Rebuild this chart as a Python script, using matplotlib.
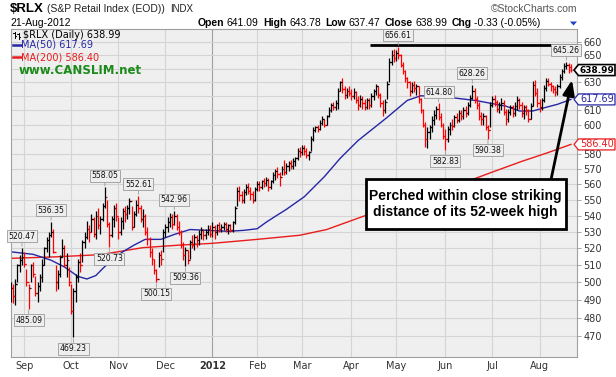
import matplotlib
matplotlib.use('Agg')
import matplotlib.pyplot as plt
from matplotlib.patches import Polygon, Rectangle
from matplotlib.lines import Line2D
from matplotlib.ticker import NullLocator
import numpy as np

# ---------------- data ----------------
closes = [497, 492, 499, 510, 513, 515, 511, 500, 497, 510, 505, 494, 498, 503, 510, 520, 525, 528, 530, 518,
          500, 505, 515, 520, 510, 513, 500, 484, 495, 503, 512, 510, 524, 527, 532, 530, 538, 529, 540, 534,
          538, 546, 552, 535, 528, 538, 545, 540, 530, 537, 543, 541, 545, 549, 533, 541, 547, 545, 538, 540,
          530, 526, 518, 514, 507, 502, 516, 514, 530, 533, 536, 539, 535, 540, 533, 530, 522, 516, 519, 513,
          524, 522, 527, 525, 529, 531, 528, 530, 532, 529, 533, 530, 534, 532, 533, 535, 532, 534, 531, 536,
          545, 556, 553, 550, 555, 558, 556, 554, 550, 557, 560, 558, 562, 561, 563, 558, 562, 566, 569, 567,
          565, 570, 568, 572, 574, 572, 575, 577, 582, 581, 584, 582, 579, 581, 590, 596, 598, 597, 601, 604,
          600, 606, 610, 614, 612, 615, 624, 630, 625, 621, 624, 622, 620, 623, 617, 614, 618, 615, 612, 617,
          614, 620, 624, 627, 621, 615, 610, 616, 629, 645, 650, 648, 652, 650, 643, 638, 633, 630, 624, 628,
          626, 627, 618, 610, 600, 590, 595, 598, 603, 607, 611, 605, 600, 592, 590, 597, 600, 599, 605, 603,
          608, 606, 610, 608, 614, 619, 624, 618, 614, 606, 604, 606, 598, 596, 614, 618, 616, 611, 614, 615,
          609, 604, 609, 612, 608, 613, 617, 614, 608, 612, 610, 604, 613, 628, 622, 615, 612, 617, 626, 631,
          629, 627, 625, 623, 627, 634, 638, 642, 643, 639.32, 638.99]
highs = [500, 499, 502, 511, 516, 520.47, 518, 508, 499, 511, 512, 504, 500, 505, 514, 521, 527, 530, 536.35, 532,
         510, 507, 516, 526, 522, 517, 509, 499, 497, 505, 514, 517, 525, 530, 537, 534, 541, 539, 543, 545,
         540, 548, 558.05, 550, 536, 540, 547, 548, 539, 539, 545, 546, 547, 551, 546, 543, 550, 552.61, 547, 544,
         541, 533, 527, 520, 514, 508, 518, 519, 532, 535, 539, 542, 541, 542.96, 541, 537, 531, 524, 521, 519,
         525, 528, 529, 528, 531, 533, 532, 532, 534, 534, 536, 534, 535, 536, 535, 536, 536, 535, 535, 537,
         546, 558, 559, 556, 557, 560, 561, 558, 556, 558, 562, 562, 563, 564, 565, 564, 563, 568, 570, 571,
         568, 572, 576, 574, 575, 576, 577, 578, 584, 585, 586, 586, 584, 582, 592, 598, 599, 600, 603, 606,
         604, 607, 612, 615, 616, 617, 626, 631, 633, 627, 626, 627, 625, 626, 624, 620, 621, 620, 618, 619,
         619, 622, 625, 629, 627, 622, 617, 618, 631, 648, 654, 655, 654, 656.61, 651, 645, 639, 634, 631, 630,
         631, 629, 627, 619, 611, 602, 598, 600, 606, 610, 613, 614.80, 608, 601, 597, 599, 602, 604, 607, 608,
         610, 610, 612, 613, 616, 621, 628.26, 626, 620, 616, 609, 608, 607, 600, 616, 620, 621, 617, 616, 619,
         617, 611, 611, 614, 614, 616, 620, 619, 616, 614, 614, 611, 615, 631, 632, 626, 618, 619, 628, 633,
         633, 630, 628, 627, 629, 636, 640, 644, 645.26, 644, 643.78]
lows = [489, 488, 487, 500, 506, 510, 509, 498, 485.09, 500, 503, 492, 489, 495, 500, 510, 518, 515, 527, 517,
        495, 496, 503, 515, 509, 503, 498, 482, 469.23, 489, 500, 506, 512, 520, 526, 524, 530, 527, 526, 532,
        529, 537, 545, 533, 520.73, 527, 533, 537, 526, 528, 532, 536, 538, 541, 531, 533, 540, 542, 536, 533,
        528, 522, 515, 510, 505, 500.15, 509, 510, 518, 527, 530, 533, 532, 534, 531, 528, 520, 513, 509.36, 511,
        514, 520, 519, 521, 522, 526, 525, 526, 528, 527, 527, 526, 528, 530, 530, 531, 530, 529, 530, 530,
        535, 546, 549, 548, 548, 553, 554, 550, 548, 549, 556, 556, 557, 558, 559, 556, 557, 561, 563, 564,
        559, 566, 566, 567, 569, 570, 570, 572, 576, 578, 579, 579, 577, 576, 582, 589, 595, 595, 596, 600,
        598, 600, 605, 609, 610, 610, 611, 624, 622, 618, 619, 620, 617, 618, 615, 610, 612, 611, 610, 611,
        611, 612, 617, 621, 619, 612, 606, 608, 618, 630, 643, 645, 646, 647, 641, 636, 630, 626, 620, 622,
        623, 621, 615, 608, 598, 585, 584, 590, 595, 600, 604, 603, 598, 590, 582.83, 588, 593, 596, 598, 601,
        602, 603, 604, 605, 607, 612, 618, 615, 611, 603, 600, 600, 596, 590.38, 598, 612, 613, 609, 608, 610,
        607, 600, 602, 607, 605, 606, 610, 611, 605, 604, 607, 602, 604, 613, 620, 612, 609, 610, 616, 624,
        627, 624, 622, 620, 621, 626, 632, 637, 640, 637, 637.47]
last_open = 641.09

ma50_idx = [0, 10, 18, 24, 30, 34, 38, 41, 45, 50, 55, 60, 67, 73, 80, 88, 97, 104, 110, 114, 118, 123, 131,
            140, 147, 155, 168, 177, 183, 194, 208, 221, 227, 233, 238, 244, 250]
ma50_val = [518, 516.5, 513, 509, 503.5, 502, 504, 508, 513, 518, 522, 525.5, 525.5, 528.5, 531.5, 531, 530.4,
            531, 532, 536, 539.6, 544, 552, 565, 577, 589, 605, 617, 620.3, 619.5, 616.8, 612.9, 609.5, 609.5,
            611.7, 614.2, 617.69]
ma200_idx = [0, 20, 40, 59, 75, 90, 110, 129, 141, 151, 161, 175, 189, 204, 215, 228, 240, 250]
ma200_val = [514.1, 515, 516.3, 520.5, 522, 523.1, 525.5, 528, 531.5, 536.5, 541.5, 547.5, 554, 562, 568,
             575, 581, 586.4]

month_idx = [6, 27, 48, 69, 90, 110, 130, 152, 172, 194, 215, 236]
month_lbl = ['Sep', 'Oct', 'Nov', 'Dec', '2012', 'Feb', 'Mar', 'Apr', 'May', 'Jun', 'Jul', 'Aug']
ytick_vals = list(range(470, 661, 10))

hi_label_idx = [5, 18, 42, 57, 73, 173, 191, 206, 248]
lo_label_idx = [8, 28, 44, 65, 78, 194, 213]

resistance_level = 657.9
resistance_start = 160.3
last_close, ma50_last, ma200_last = 638.99, 617.69, 586.40

# ---------------- figure ----------------
W, H = 616, 377
fig = plt.figure(figsize=(W / 100, H / 100), dpi=100)
fig.patch.set_facecolor('white')
L, R, T, B = 10.5, 576.7, 29.3, 356.7
ax = fig.add_axes([L / W, 1 - B / H, (R - L) / W, (B - T) / H])
ax.set_facecolor('#efefef')
ax.set_yscale('log')
ax.set_ylim(458.9, 669.8)
ax.set_xlim(-0.1, 252.6)


def fp(x, y):
    return (x / W, 1 - y / H)


tag_vals = [last_close, ma50_last, ma200_last]

# grid
ax.set_yticks(ytick_vals)
# tick labels that sit behind the value tags are hidden, as in the reference
ax.set_yticklabels(['' if any(abs(v - t) < 4.5 for t in tag_vals) else str(v) for v in ytick_vals])
ax.yaxis.set_minor_locator(NullLocator())
ax.yaxis.tick_right()
ax.tick_params(axis='y', which='major', direction='out', length=3, width=0.6, pad=2,
               colors='#999999', labelcolor='#333333', labelsize=7)
ax.grid(axis='y', color='#d4d4d4', lw=0.8)
for i, lab in zip(month_idx, month_lbl):
    ax.axvline(i, color='#a0a0a0' if lab == '2012' else '#d4d4d4', lw=0.8, zorder=0.5)
ax.set_axisbelow(True)
ax.set_xticks(month_idx)
ax.set_xticklabels(month_lbl, fontsize=7, color='#333333')
ax.tick_params(axis='x', length=0, pad=3)
for t in ax.get_xticklabels():
    if t.get_text() == '2012':
        t.set_fontweight('bold')
for s in ax.spines.values():
    s.set_color('#a0a0a0')
    s.set_linewidth(0.8)

# moving averages
ax.plot(ma200_idx, ma200_val, color='#e81c1c', lw=1.0, zorder=2)
ax.plot(ma50_idx, ma50_val, color='#2626a6', lw=1.0, zorder=2)

# OHLC bars
n = len(closes)
x = np.arange(n)
opens = [closes[0]] + closes[:-1]
opens[-1] = last_open
cols = ['#000000' if (i == 0 or closes[i] >= closes[i - 1]) else '#ff0000' for i in range(n)]
ax.vlines(x, lows, highs, colors=cols, lw=0.9, zorder=3)
ax.hlines(opens, x - 0.7, x, colors=cols, lw=0.9, zorder=3)
ax.hlines(closes, x, x + 0.7, colors=cols, lw=0.9, zorder=3)

# high / low labels
box = dict(boxstyle='square,pad=0.2', fc='#eeeeee', ec='#9a9a9a', lw=0.6)
for i in hi_label_idx:
    ax.annotate(f'{highs[i]:.2f}', xy=(i, highs[i]), xytext=(0, 5), textcoords='offset points',
                ha='center', va='bottom', fontsize=5.6, color='#111111', bbox=box,
                arrowprops=dict(arrowstyle='-', color='#9a9a9a', lw=0.6, shrinkA=0, shrinkB=1), zorder=6)
for i in lo_label_idx:
    ax.annotate(f'{lows[i]:.2f}', xy=(i, lows[i]), xytext=(0, -5), textcoords='offset points',
                ha='center', va='top', fontsize=5.6, color='#111111', bbox=box,
                arrowprops=dict(arrowstyle='-', color='#9a9a9a', lw=0.6, shrinkA=0, shrinkB=1), zorder=6)

# resistance line
ax.hlines(resistance_level, resistance_start, 252.6, color='black', lw=2.0, zorder=5)

# arrow
ax.annotate('', xy=(250.5, 631.7), xytext=(241.1, 562.8),
            arrowprops=dict(arrowstyle='-|>,head_length=0.9,head_width=0.35', lw=2.0, color='black',
                            shrinkA=0, shrinkB=0), zorder=7)

# annotation box
fig.add_artist(Rectangle(fp(365.7, 229.3), 200 / W, 50 / H, transform=fig.transFigure,
                         fc='white', ec='black', lw=2.0, zorder=10))
fig.text(465.7 / W, 1 - 204.3 / H, 'Perched within close striking\ndistance of its 52-week high',
         ha='center', va='center', fontsize=10, fontweight='bold',
         family=['Liberation Sans Narrow', 'Liberation Sans', 'DejaVu Sans'], linespacing=1.15, zorder=11)

# value tags on the right axis
fig.canvas.draw()
for val, col, wt in [(last_close, 'black', 'bold'), (ma50_last, '#2626a6', 'normal'),
                     (ma200_last, '#e81c1c', 'normal')]:
    yc = H - ax.transData.transform((0, val))[1]
    pts = [fp(574, yc), fp(578.5, yc - 5.5), fp(615, yc - 5.5), fp(615, yc + 5.5), fp(578.5, yc + 5.5)]
    fig.add_artist(Polygon(pts, closed=True, transform=fig.transFigure, fc='white', ec=col,
                           lw=1.2 if wt == 'bold' else 0.9, zorder=10))
    fig.text(597 / W, 1 - yc / H, f'{val:.2f}', ha='center', va='center', fontsize=6.5 if wt == 'bold' else 7,
             color=col, fontweight=wt, zorder=11)

# header
hf = ['Liberation Sans', 'DejaVu Sans']
fig.text(10 / W, 1 - 11.9 / H, '$RLX', fontsize=9.5, fontweight='bold', family=hf, va='baseline')
fig.text(46.7 / W, 1 - 11.7 / H, '(S&P Retail Index (EOD))', fontsize=7.5, family=hf, va='baseline',
         color='#222222')
fig.text(170 / W, 1 - 11.7 / H, 'INDX', fontsize=7, family=hf, va='baseline', color='#222222')
fig.text(577 / W, 1 - 11.7 / H, '\u00a9StockCharts.com', fontsize=7.5, family=hf, va='baseline',
         ha='right', color='#555555')
fig.text(10 / W, 1 - 25.7 / H, '21-Aug-2012', fontsize=7.5, family=hf, va='baseline')

parts = [('Open', 'bold', 0), ('641.09', 'normal', 2), ('High', 'bold', 3), ('643.78', 'normal', 2),
         ('Low', 'bold', 3), ('637.47', 'normal', 2), ('Close', 'bold', 3), ('638.99', 'normal', 2),
         ('Chg', 'bold', 3), ('-0.33 (-0.05%)', 'normal', 2)]
prev = fig.text(197.6 / W, 1 - 25.7 / H, parts[0][0], fontsize=7.5, fontweight='bold', family=hf,
                va='baseline')
for s, wt, gap in parts[1:]:
    prev = ax.annotate(s, xy=(1, 0), xycoords=prev, xytext=(gap, 0), textcoords='offset points',
                       va='bottom', ha='left', fontsize=7.5, fontweight=wt, family=hf,
                       annotation_clip=False)
fig.add_artist(Polygon([fp(570, 21.5), fp(577, 21.5), fp(573.5, 25.5)], closed=True,
                       transform=fig.transFigure, fc='#2040d0', ec='none'))

# legend inside plot
lf = ['DejaVu Sans']
for xx, y0, y1, yo, yc_ in [(14.5, 31.5, 37.5, 33, 36), (18.5, 32.5, 38.5, 34, 37)]:
    fig.add_artist(Line2D([xx / W, xx / W], [1 - y1 / H, 1 - y0 / H], transform=fig.transFigure,
                          color='black', lw=0.7))
    fig.add_artist(Line2D([(xx - 1.5) / W, xx / W], [1 - yo / H] * 2, transform=fig.transFigure,
                          color='black', lw=0.7))
    fig.add_artist(Line2D([xx / W, (xx + 1.5) / W], [1 - yc_ / H] * 2, transform=fig.transFigure,
                          color='black', lw=0.7))
fig.text(23 / W, 1 - 34.5 / H, '$RLX (Daily) 638.99', fontsize=7, family=lf, va='center')
fig.add_artist(Line2D([13 / W, 20.5 / W], [1 - 44.5 / H] * 2, transform=fig.transFigure,
                      color='#2626a6', lw=1.8))
fig.text(21 / W, 1 - 44.5 / H, 'MA(50) 617.69', fontsize=7, family=lf, va='center', color='#2626a6')
fig.add_artist(Line2D([13 / W, 20.5 / W], [1 - 57 / H] * 2, transform=fig.transFigure,
                      color='#e81c1c', lw=1.8))
fig.text(21 / W, 1 - 57 / H, 'MA(200) 586.40', fontsize=7, family=lf, va='center', color='#e81c1c')
fig.text(19 / W, 1 - 70.5 / H, 'www.CANSLIM.net', fontsize=8.5, family=lf, fontweight='bold',
         va='center', color='#1b8a1b')

fig.savefig('out.png', dpi=100, facecolor='white')
